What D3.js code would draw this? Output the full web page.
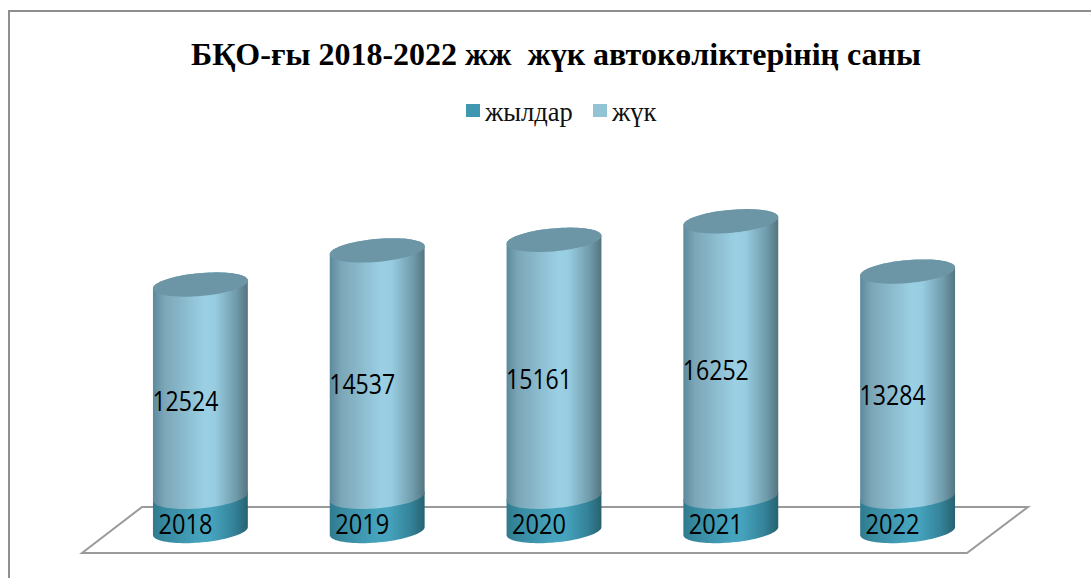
<!DOCTYPE html>
<html><head><meta charset="utf-8">
<style>html,body{margin:0;padding:0;background:#fff}svg{display:block}</style>
<script src="https://cdnjs.cloudflare.com/ajax/libs/d3/7.8.5/d3.min.js"></script>
</head><body><svg id="c" width="1091" height="578"></svg>
<script>
const categories = ["2018","2019","2020","2021","2022"];
const yearValues = [2018,2019,2020,2021,2022];
const cargoValues = [12524,14537,15161,16252,13284];
const seriesNames = ["жылдар","жүк"];
const chartTitle = "БҚО-ғы 2018-2022 жж  жүк автокөліктерінің саны";

const svg = d3.select("#c");
const W=1091,H=578;
const table = categories.map((c,i)=>({cat:c,[seriesNames[0]]:yearValues[i],[seriesNames[1]]:cargoValues[i]}));
const stacked = d3.stack().keys(seriesNames)(table);
const x = d3.scaleBand().domain(categories).range([112,996]).paddingInner(0.4633).paddingOuter(0.2316);
const y = d3.scaleLinear().domain([0,20000]).range([531,192]);

const defs = svg.append("defs");
function grad(id,stops){
  const g=defs.append("linearGradient").attr("id",id).attr("x1","0").attr("x2","1").attr("y1","0").attr("y2","0");
  stops.forEach(([o,c])=>g.append("stop").attr("offset",o).attr("stop-color",c));
}
grad("gLow",[[0,"#2f7a8e"],[.12,"#37899f"],[.5,"#46a3bd"],[.62,"#46a3bd"],[.85,"#34839a"],[1,"#27626f"]]);
grad("gHigh",[[0,"#5b8a9c"],[.12,"#7ba6b8"],[.55,"#9bd0e4"],[.65,"#98cde1"],[.88,"#6f9aaa"],[1,"#55747f"]]);
const fills={[seriesNames[0]]:"url(#gLow)",[seriesNames[1]]:"url(#gHigh)"};

// frame
svg.append("path").attr("d",`M9,${H} V11 H${W}`).attr("fill","none").attr("stroke","#8f8f8f").attr("stroke-width",2);

// floor
svg.append("path").attr("d","M82,553 L142,507 H1028 L967,553 Z").attr("fill","#fff").attr("stroke","#9a9a9a").attr("stroke-width",2).attr("stroke-linejoin","miter");

const a = x.bandwidth()/2, b = 11.5, shear = 4;
const ts = d3.range(0,361,4).map(t=>t*Math.PI/180);
const px=(cx,cy,t)=>[cx+a*Math.cos(t), cy+b*Math.sin(t)-shear*Math.cos(t)];
const line=d3.line();
function body(cx,y0,y1){ // y0 top centre, y1 bottom centre
  const front=d3.range(0,181,4).map(t=>px(cx,y1,t*Math.PI/180));
  const back=d3.range(180,361,4).map(t=>px(cx,y0,t*Math.PI/180));
  return line(front.concat(back))+"Z";
}
function lid(cx,cy){return line(ts.map(t=>px(cx,cy,t)))+"Z";}

stacked.forEach(s=>{
  const g=svg.append("g");
  g.selectAll("path.b").data(s).join("path").attr("class","b")
    .attr("d",d=>body(x(d.data.cat)+a,y(d[1]),y(d[0]))).attr("fill",fills[s.key]);
  if(s.key===seriesNames[1]){
    g.selectAll("path.l").data(s).join("path").attr("class","l")
      .attr("d",d=>lid(x(d.data.cat)+a,y(d[1]))).attr("fill","#6c95a5");
  }
});
const lab=svg.append("g").attr("font-family","'Open Sans','Noto Sans',sans-serif").attr("font-size",27).attr("fill","#000").attr("text-anchor","middle");
stacked.forEach(s=>{
  lab.selectAll(null).data(s).join("text")
    .attr("x",d=>x(d.data.cat)+a-15)
    .attr("y",d=>(y(d[0])+y(d[1]))/2+(s.key===seriesNames[0]?20.5:20.5))
    .attr("textLength",d=>s.key===seriesNames[0]?54:66).attr("lengthAdjust","spacingAndGlyphs")
    .text(d=>d[1]-d[0]);
});

svg.append("text").attr("x",556).attr("y",65).attr("text-anchor","middle")
 .attr("font-family","'Liberation Serif',serif").attr("font-weight","bold").attr("font-size",32)
 .style("white-space","pre").text(chartTitle);

const lx=[466,593], tx=[485,612], swatch=["#4098b0","#93c4d6"];
seriesNames.forEach((n,i)=>{
  svg.append("rect").attr("x",lx[i]).attr("y",104).attr("width",14).attr("height",13).attr("fill",swatch[i]);
  svg.append("text").attr("x",tx[i]).attr("y",121).attr("font-family","'Liberation Serif',serif").attr("font-size",26.5).attr("fill","#111").text(n);
});
</script></body></html>
